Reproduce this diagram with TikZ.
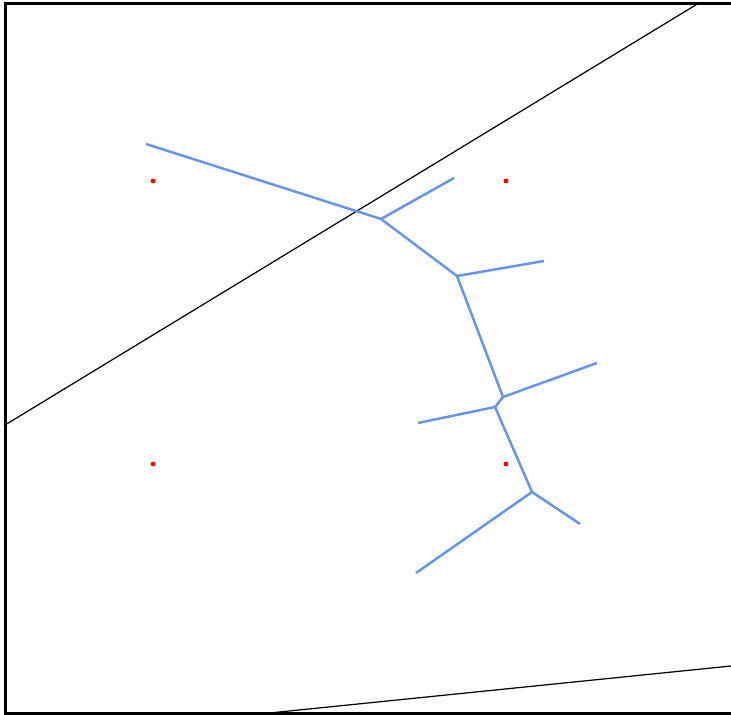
\documentclass[tikz,border=0pt]{standalone}
\usepackage{tikz}
\usetikzlibrary{calc}
\definecolor{vorBlue}{HTML}{6495ED}
\definecolor{siteRed}{HTML}{FF0000}

\begin{document}
\begin{tikzpicture}[
      x=0.02cm, y=-0.02cm,
      frame/.style={draw=black, line width=1.4pt},
      cutline/.style={draw=black, line width=0.7pt},
      edge/.style={draw=vorBlue, line width=1.4pt, line join=round},
      site/.style={fill=siteRed, draw=none},
    ]
    \useasboundingbox (0,0) rectangle (731,715);

    % ---------- marco ----------
    \draw[frame] (760,3.5) -- (5.5,3.5) -- (5.5,713.5) -- (760,713.5);

    % ---------- rectas negras ----------
    \coordinate (la) at (5,425);
    \coordinate (lb) at (699,3);
    \coordinate (lc) at (250,715);
    \coordinate (ld) at (731,666);
    \draw[cutline] (la) -- (lb);
    \draw[cutline] (lc) -- (ld);

    % ---------- sitios ----------
    \foreach \px/\py [count=\i] in {153/181, 506/181, 153/464, 506/464}
      \fill[site] (\px,\py) circle (2.4);

    % ---------- vertices del arbol ----------
    \coordinate (j1) at (381,219);
    \coordinate (j2) at (457,276);
    \coordinate (j3) at (503,397);
    \coordinate (j4) at (495,407);
    \coordinate (j5) at (532,492);

    \coordinate (e1) at (146,144);
    \coordinate (e2) at (454,178);
    \coordinate (e3) at (544,261);
    \coordinate (e4) at (597,363);
    \coordinate (e5) at (418,423);
    \coordinate (e6) at (580,524);
    \coordinate (e7) at (416,573);

    % ---------- aristas ----------
    \draw[edge] (e1) -- (j1);
    \draw[edge] (j1) -- (e2);
    \draw[edge] (j1) -- (j2);
    \draw[edge] (j2) -- (e3);
    \draw[edge] (j2) -- (j3);
    \draw[edge] (j3) -- (e4);
    \draw[edge] (j3) -- (j4);
    \draw[edge] (j4) -- (e5);
    \draw[edge] (j4) -- (j5);
    \draw[edge] (j5) -- (e6);
    \draw[edge] (j5) -- (e7);

\end{tikzpicture}
\end{document}
